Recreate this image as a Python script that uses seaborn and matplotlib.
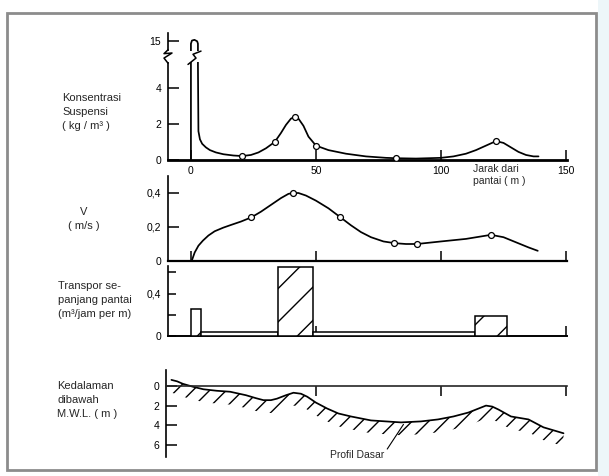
import numpy as np
import pandas as pd
import matplotlib
matplotlib.use("Agg")
import matplotlib.pyplot as plt
import seaborn as sns
from matplotlib.patches import Rectangle
from matplotlib.lines import Line2D
from matplotlib.transforms import blended_transform_factory

# ---------------- data ----------------
# Suspended concentration (kg/m3) vs distance from shore (m)
conc_x = [0, 0, 0.4, 1.4, 2.5, 2.8, 2.8, 3.0, 3.6, 4.5, 6, 7.6, 10, 13, 17, 20.5, 24, 27,
          30, 33.5, 36, 38, 40, 41.5, 43, 45, 47, 50, 55, 62, 70, 78, 82, 90, 100, 105,
          110, 114, 118, 122, 125, 128, 131, 134, 137, 139]
conc_y = [0, 14, 15.3, 15.6, 15.0, 14, 5.3, 1.6, 1.15, 0.9, 0.7, 0.55, 0.42, 0.32, 0.25,
          0.22, 0.28, 0.42, 0.65, 1.0, 1.5, 1.95, 2.3, 2.4, 2.3, 1.9, 1.3, 0.8, 0.55, 0.35,
          0.2, 0.12, 0.1, 0.08, 0.12, 0.2, 0.35, 0.55, 0.8, 1.05, 0.95, 0.7, 0.45, 0.28,
          0.2, 0.2]
conc_pts_x = [20.5, 33.5, 41.5, 50, 82, 122]
conc_pts_y = [0.22, 1.0, 2.4, 0.8, 0.1, 1.05]

# Current velocity V (m/s)
v_x = [0.3, 1.5, 3, 4.8, 7, 9.5, 12.9, 16, 20, 24.2, 28, 32, 36, 39, 40.8, 43, 46, 50,
       55, 59.7, 64, 68, 72, 77, 81.4, 86, 90.4, 100, 110, 120, 125, 130, 135, 138.7]
v_y = [0, 0.05, 0.09, 0.12, 0.15, 0.175, 0.196, 0.212, 0.232, 0.257, 0.29, 0.33, 0.37,
       0.395, 0.40, 0.40, 0.385, 0.355, 0.31, 0.258, 0.21, 0.17, 0.14, 0.115, 0.105,
       0.10, 0.10, 0.115, 0.13, 0.154, 0.14, 0.11, 0.08, 0.06]
v_pts_x = [24.2, 40.8, 59.7, 81.4, 90.4, 120]
v_pts_y = [0.257, 0.40, 0.258, 0.105, 0.10, 0.154]

# Longshore transport (m3/jam per m), blocks over distance intervals
tr_left = [0, 4, 35, 49, 113.6]
tr_width = [4, 31, 14, 64.6, 12.9]
tr_height = [0.25, 0.04, 0.65, 0.04, 0.19]
tr_hatched = [True, False, True, False, True]

# Bottom profile depth below MWL (m)
d_x = [-7.8, -5.5, -3.2, 0.9, 5, 10.3, 15.7, 22, 26, 29, 32, 34.4, 38, 41, 44, 46.5, 50,
       54.5, 59, 64, 72, 84, 92, 98.8, 105, 111, 115, 118, 120.5, 123, 128, 135, 141, 149]
d_y = [-0.6, -0.45, -0.2, 0.1, 0.35, 0.5, 0.6, 0.95, 1.25, 1.45, 1.45, 1.3, 0.95, 0.7,
       0.8, 1.1, 1.7, 2.3, 2.8, 3.1, 3.5, 3.7, 3.6, 3.4, 3.1, 2.7, 2.3, 2.0, 2.1, 2.4, 3.1,
       3.4, 4.2, 4.8]

x_ticks = [0, 50, 100, 150]
x_ticklabels = ["0", "50", "100", "150"]

# ---------------- style ----------------
sns.set_theme(style="white")
plt.rcParams["font.family"] = ["Liberation Sans", "DejaVu Sans"]
plt.rcParams["hatch.linewidth"] = 1.0
plt.rcParams["axes.linewidth"] = 1.2

W, H = 609, 476
fig = plt.figure(figsize=(W / 100, H / 100), dpi=100)
fig.patch.set_facecolor("white")


def ax_at(l, t, r, b):
    return fig.add_axes([l / W, 1 - b / H, (r - l) / W, (b - t) / H])


XL = (-9.17, 150.4)
LW = 1.25
FS_TICK = 7.5
FS_LAB = 8


def base_style(ax):
    ax.set_facecolor("none")
    ax.set_xlim(*XL)
    for s in ["top", "right"]:
        ax.spines[s].set_visible(False)
    for s in ["left", "bottom"]:
        ax.spines[s].set_color("black")
    ax.tick_params(axis="y", direction="in", length=8, width=1.1, pad=5,
                   labelsize=FS_TICK, colors="black", left=True)
    ax.tick_params(axis="x", direction="in", length=7, width=1.1, colors="black",
                   bottom=True)
    ax.set_xlabel("")
    ax.set_ylabel("")


# ---- panel 1 : concentration (broken y axis) ----
BRK, K = 5.3, 0.134


def fwd(c):
    c = np.asarray(c, dtype=float)
    return np.where(c <= BRK, c, BRK + (c - BRK) * K)


def inv(y):
    y = np.asarray(y, dtype=float)
    return np.where(y <= BRK, y, BRK + (y - BRK) / K)


ax1 = ax_at(168, 33, 567, 160)
base_style(ax1)
ax1.set_yscale("function", functions=(fwd, inv))
ax1.set_ylim(0, float(inv(7.06)))
sns.lineplot(x=conc_x, y=conc_y, ax=ax1, color="black", lw=LW, sort=False,
             estimator=None)
sns.scatterplot(x=conc_pts_x, y=conc_pts_y, ax=ax1, marker="o", s=18,
                facecolor="white", edgecolor="black", linewidth=0.9, zorder=5)
ax1.set_yticks([0, 2, 4, 15])
ax1.set_yticklabels(["0", "2", "4", "15"])
ax1.set_xticks(x_ticks)
ax1.set_xticklabels(x_ticklabels)
ax1.tick_params(axis="x", labelsize=FS_TICK, pad=4)
ax1.spines["bottom"].set_linewidth(2.0)
ax1.yaxis.set_minor_locator(matplotlib.ticker.NullLocator())
ax1.text(113, -0.035, "Jarak dari\npantai ( m )", fontsize=FS_TICK,
         transform=blended_transform_factory(ax1.transData, ax1.transAxes),
         va="top", ha="left", linespacing=1.25)

# break marks (decoration, axes fraction coordinates)
hpx, wpx = 127.0, 399.0
yb0, yb1 = 5.45 * 18 / hpx, 6.05 * 18 / hpx
ax1.add_patch(Rectangle((-0.01, yb0), 0.02, yb1 - yb0, transform=ax1.transAxes,
                        facecolor="white", edgecolor="none", zorder=6, clip_on=False))
zz = [(0, yb0 - 0.01), (-4, yb0 + 0.03), (4, yb0 + 0.07), (-4, yb1 - 0.02), (0, yb1 + 0.01)]
ax1.add_line(Line2D([p[0] / wpx for p in zz], [p[1] for p in zz], transform=ax1.transAxes,
                    color="black", lw=1.1, zorder=7, clip_on=False))
xs0 = (191 - 168) / wpx
ax1.add_patch(Rectangle((xs0 - 0.005, yb0), 0.03, yb1 - yb0, transform=ax1.transAxes,
                        facecolor="white", edgecolor="none", zorder=6))
zz2 = [(-3, yb0 - 0.02), (5, yb0 + 0.03), (2, yb0 + 0.06), (10, yb1 + 0.0)]
ax1.add_line(Line2D([xs0 + p[0] / wpx for p in zz2], [p[1] for p in zz2],
                    transform=ax1.transAxes, color="black", lw=1.1, zorder=7))

# ---- panel 2 : velocity ----
ax2 = ax_at(168, 176, 567, 261)
base_style(ax2)
sns.lineplot(x=v_x, y=v_y, ax=ax2, color="black", lw=LW, sort=False, estimator=None)
sns.scatterplot(x=v_pts_x, y=v_pts_y, ax=ax2, marker="o", s=18,
                facecolor="white", edgecolor="black", linewidth=0.9, zorder=5)
ax2.set_ylim(0, 0.5)
ax2.set_yticks([0, 0.2, 0.4])
ax2.set_yticklabels(["0", "0,2", "0,4"])
ax2.set_xticks(x_ticks)
ax2.tick_params(axis="x", labelbottom=False)
ax2.spines["bottom"].set_linewidth(1.6)

# ---- panel 3 : longshore transport ----
ax3 = ax_at(168, 266, 567, 336)
base_style(ax3)
for l, w, h, hat in zip(tr_left, tr_width, tr_height, tr_hatched):
    ax3.bar(l, h, width=w, align="edge", facecolor="white", edgecolor="black",
            linewidth=1.1, hatch="/" if hat else None, zorder=3)
ax3.set_ylim(0, 0.66)
ax3.set_yticks([0, 0.2, 0.4, 0.6])
ax3.set_yticklabels(["0", "", "0,4", ""])
ax3.tick_params(axis="y", length=6)
ax3.set_xticks([50, 150])
ax3.tick_params(axis="x", labelbottom=False)
ax3.spines["bottom"].set_linewidth(1.4)

# ---- panel 4 : depth profile ----
ax4 = ax_at(166, 370, 567, 457)
base_style(ax4)
ax4.set_xlim((166 - 191) / 2.507, XL[1])
ax4.set_ylim(7.2, -1.6)
ax4.spines["bottom"].set_visible(False)
ax4.spines["top"].set_visible(True)
ax4.spines["top"].set_position(("data", 0))
ax4.spines["top"].set_linewidth(1.2)
ax4.xaxis.set_ticks_position("top")
ax4.set_xticks([50, 100, 150])
ax4.tick_params(axis="x", labeltop=False, labelbottom=False, direction="in", length=7,
                top=True, bottom=False)
ax4.set_yticks([0, 2, 4, 6])
ax4.set_yticklabels(["0", "2", "4", "6"])
sns.lineplot(x=d_x, y=d_y, ax=ax4, color="black", lw=LW, sort=False, estimator=None)
ax4.fill_between(d_x, d_y, np.asarray(d_y) + 1.3, facecolor="none", edgecolor="black",
                 hatch="//", linewidth=0)
ax4.annotate("Profil Dasar", xy=(85, 3.9), xytext=(55.5, 7.0), fontsize=FS_TICK,
             ha="left", va="center", annotation_clip=False,
             arrowprops=dict(arrowstyle="-", color="black", lw=0.8,
                             shrinkA=0, shrinkB=0, relpos=(1.0, 0.6)))

# ---- left labels ----
def flabel(x, y, s, ha="left"):
    fig.text(x / W, 1 - y / H, s, fontsize=FS_LAB, ha=ha, va="center",
             linespacing=1.45)

flabel(62, 112, "Konsentrasi\nSuspensi\n( kg / m³ )")
flabel(84, 219, "V\n( m/s )", ha="center")
flabel(58, 300, "Transpor se-\npanjang pantai\n(m³/jam per m)")
flabel(57, 400, "Kedalaman\ndibawah\nM.W.L. ( m )")

# ---- frame of the scanned figure ----
fig.patches.append(Rectangle((7 / W, 1 - 470 / H), (596 - 7) / W, (470 - 13) / H,
                             transform=fig.transFigure, fill=False,
                             edgecolor="#8c8c8c", linewidth=2.0))
fig.patches.append(Rectangle((598 / W, 0), 11 / W, 1, transform=fig.transFigure,
                             facecolor="#edf6f9", edgecolor="none"))

fig.savefig("out.png", dpi=100, facecolor="white")
